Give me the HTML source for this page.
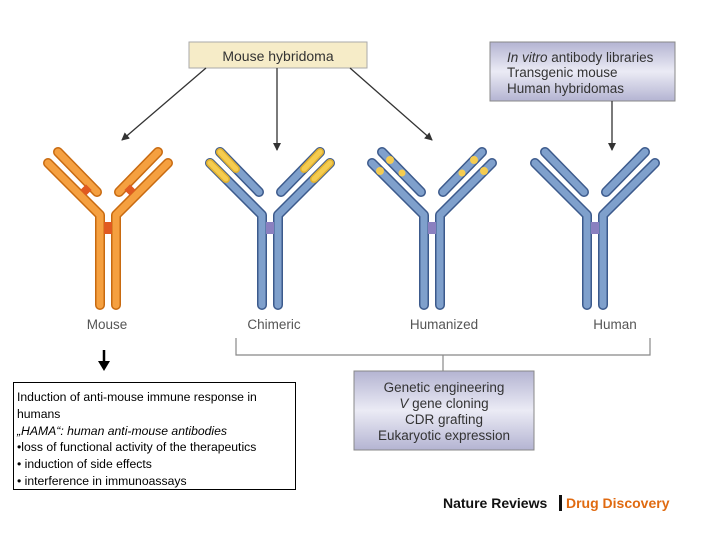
<!DOCTYPE html>
<html><head><meta charset="utf-8"><style>
body{margin:0;background:#fff;width:720px;height:540px;overflow:hidden;font-family:"Liberation Sans",sans-serif}
svg{position:absolute;left:0;top:0}
.tb{position:absolute;left:13px;top:382px;width:283px;height:108px;border:1px solid #000;font-size:12.2px;line-height:16.8px;padding:6px 0 0 3px;box-sizing:border-box;color:#000}
</style></head><body>
<svg width="720" height="540" viewBox="0 0 720 540">
<defs>
<linearGradient id="lg" x1="0" y1="0" x2="0" y2="1"><stop offset="0" stop-color="#b4b4d2"/><stop offset=".5" stop-color="#ebebf5"/><stop offset="1" stop-color="#b4b4d2"/></linearGradient>
<marker id="ah" markerWidth="8" markerHeight="8" refX="7" refY="4" orient="auto" markerUnits="userSpaceOnUse"><path d="M0,0 L8,4 L0,8 z" fill="#333"/></marker>
<g id="shape">
<polyline points="-8,305 -8,215 -60,163"/><polyline points="8,305 8,215 60,163"/>
<line x1="-50" y1="152" x2="-11" y2="192"/><line x1="50" y1="152" x2="11" y2="192"/>
</g>
</defs>
<!-- boxes -->
<rect x="189" y="42" width="178" height="26" fill="#f6ecc8" stroke="#aaa"/>
<text x="278" y="61" font-size="14" text-anchor="middle" fill="#333">Mouse hybridoma</text>
<rect x="490" y="42" width="185" height="59" fill="url(#lg)" stroke="#888"/>
<text x="507" y="62" font-size="13.5" fill="#333"><tspan font-style="italic">In vitro</tspan> antibody libraries</text>
<text x="507" y="77" font-size="13.5" fill="#333">Transgenic mouse</text>
<text x="507" y="93" font-size="13.5" fill="#333">Human hybridomas</text>
<rect x="354" y="371" width="180" height="79" fill="url(#lg)" stroke="#888"/>
<g font-size="13.5" fill="#333" text-anchor="middle">
<text x="444" y="392">Genetic engineering</text>
<text x="444" y="408"><tspan font-style="italic">V</tspan> gene cloning</text>
<text x="444" y="424">CDR grafting</text>
<text x="444" y="440">Eukaryotic expression</text>
</g>
<!-- arrows -->
<g stroke="#333" stroke-width="1.3" fill="none" marker-end="url(#ah)">
<line x1="206" y1="68" x2="122" y2="140"/>
<line x1="277" y1="68" x2="277" y2="150"/>
<line x1="350" y1="68" x2="432" y2="140"/>
<line x1="612" y1="101" x2="612" y2="150"/>
</g>
<polyline points="236,338 236,355 650,355 650,338" fill="none" stroke="#888" stroke-width="1.2"/>
<line x1="443" y1="355" x2="443" y2="371" stroke="#888" stroke-width="1.2"/>
<line x1="104" y1="350" x2="104" y2="362" stroke="#000" stroke-width="2.5"/>
<path d="M98,361 L110,361 L104,371 z" fill="#000"/>
<!-- antibodies -->
<g fill="none" stroke-linecap="round" stroke-linejoin="round">
<g transform="translate(108,0)">
<use href="#shape" stroke="#c86a10" stroke-width="10"/><use href="#shape" stroke="#f5a040" stroke-width="7"/>
<rect x="-4" y="222" width="8" height="12" fill="#e05a20" stroke="none"/>
<rect x="-26" y="186" width="8" height="8" fill="#e05a20" stroke="none" transform="rotate(45 -22 190)"/>
<rect x="18" y="186" width="8" height="8" fill="#e05a20" stroke="none" transform="rotate(-45 22 190)"/>
</g>
<g transform="translate(270,0)">
<use href="#shape" stroke="#3c5a8c" stroke-width="10"/><use href="#shape" stroke="#7fa0cc" stroke-width="7"/>
<g stroke="#e0b030" stroke-width="8"><line x1="-60" y1="163" x2="-44" y2="179"/><line x1="60" y1="163" x2="44" y2="179"/><line x1="-50" y1="152" x2="-34" y2="169"/><line x1="50" y1="152" x2="34" y2="169"/></g>
<g stroke="#f5cc50" stroke-width="5"><line x1="-60" y1="163" x2="-44" y2="179"/><line x1="60" y1="163" x2="44" y2="179"/><line x1="-50" y1="152" x2="-34" y2="169"/><line x1="50" y1="152" x2="34" y2="169"/></g>
<rect x="-4" y="222" width="8" height="12" fill="#8a80c0" stroke="none"/>
</g>
<g transform="translate(432,0)">
<use href="#shape" stroke="#3c5a8c" stroke-width="10"/><use href="#shape" stroke="#7fa0cc" stroke-width="7"/>
<g fill="#f5cc50" stroke="none"><circle cx="-52" cy="171" r="4"/><circle cx="52" cy="171" r="4"/><circle cx="-42" cy="160" r="4"/><circle cx="42" cy="160" r="4"/><circle cx="-30" cy="173" r="3.5"/><circle cx="30" cy="173" r="3.5"/></g>
<rect x="-4" y="222" width="8" height="12" fill="#8a80c0" stroke="none"/>
</g>
<g transform="translate(595,0)">
<use href="#shape" stroke="#3c5a8c" stroke-width="10"/><use href="#shape" stroke="#7fa0cc" stroke-width="7"/>
<rect x="-4" y="222" width="8" height="12" fill="#8a80c0" stroke="none"/>
</g>
</g>
<g font-size="13.5" fill="#555" text-anchor="middle">
<text x="107" y="329">Mouse</text><text x="274" y="329">Chimeric</text><text x="444" y="329">Humanized</text><text x="615" y="329">Human</text>
</g>
<text x="443" y="508" font-size="14" font-weight="bold" fill="#111">Nature Reviews</text>
<rect x="559" y="495" width="3" height="16" fill="#111"/>
<text x="566" y="508" font-size="14" font-weight="bold" fill="#e06a10">Drug Discovery</text>
</svg>
<div class="tb">Induction of anti-mouse immune response in humans<br><i>„HAMA“: human anti-mouse antibodies</i><br>•loss of functional activity of the therapeutics<br>• induction of side effects<br>• interference in immunoassays</div>
</body></html>
